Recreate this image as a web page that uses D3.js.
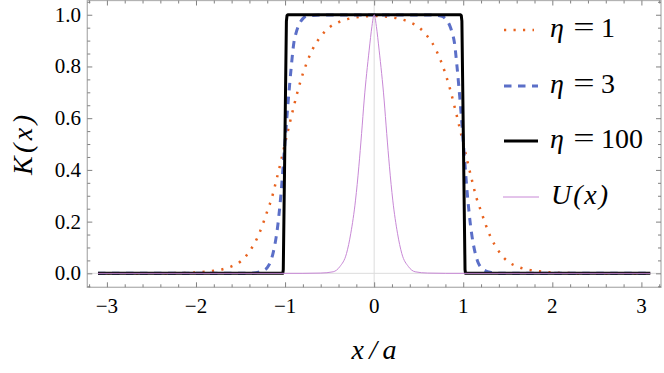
<!DOCTYPE html>
<html>
<head>
<meta charset="utf-8">
<script src="https://cdn.jsdelivr.net/npm/d3@7"></script>
</head>
<body style="margin:0">
<svg id="chart" width="664" height="373"></svg>
<script>
// --- Data ---
const xMajorTicks = [-3, -2, -1, 0, 1, 2, 3];
const yMajorTicks = [0, 0.2, 0.4, 0.6, 0.8, 1.0];

// eta = 1 (dotted orange)
const eta1 = [
  [-3.1, 0], [-2.5, 0], [-2.2, 0.001], [-2.0, 0.003], [-1.9, 0.006], [-1.8, 0.01],
  [-1.7, 0.016], [-1.6, 0.027], [-1.5, 0.046], [-1.45, 0.062], [-1.4, 0.085],
  [-1.35, 0.112], [-1.3, 0.146], [-1.25, 0.19], [-1.2, 0.24], [-1.15, 0.29],
  [-1.1, 0.357], [-1.05, 0.428], [-1.0, 0.503], [-0.95, 0.577], [-0.9, 0.648],
  [-0.85, 0.715], [-0.8, 0.772], [-0.75, 0.82], [-0.7, 0.86], [-0.65, 0.892],
  [-0.6, 0.916], [-0.5, 0.952], [-0.4, 0.971], [-0.3, 0.983], [-0.2, 0.99],
  [-0.1, 0.994], [0, 0.995],
  [0.1, 0.994], [0.2, 0.99], [0.3, 0.983], [0.4, 0.971], [0.5, 0.952], [0.6, 0.916],
  [0.65, 0.892], [0.7, 0.86], [0.75, 0.82], [0.8, 0.772], [0.85, 0.715], [0.9, 0.648],
  [0.95, 0.577], [1.0, 0.503], [1.05, 0.428], [1.1, 0.357], [1.15, 0.29], [1.2, 0.24],
  [1.25, 0.19], [1.3, 0.146], [1.35, 0.112], [1.4, 0.085], [1.45, 0.062], [1.5, 0.046],
  [1.6, 0.027], [1.7, 0.016], [1.8, 0.01], [1.9, 0.006], [2.0, 0.003], [2.2, 0.001],
  [2.5, 0], [3.1, 0]
];

// eta = 3 (dashed blue)
const eta3 = [
  [-3.1, 0], [-1.4, 0], [-1.3, 0.004], [-1.25, 0.01], [-1.2, 0.022], [-1.16, 0.048],
  [-1.13, 0.085], [-1.1, 0.14], [-1.08, 0.19], [-1.06, 0.255], [-1.04, 0.33],
  [-1.02, 0.42], [-1.0, 0.51], [-0.97, 0.645], [-0.95, 0.725], [-0.93, 0.8],
  [-0.9, 0.895], [-0.88, 0.925], [-0.85, 0.957], [-0.8, 0.985], [-0.75, 0.995],
  [-0.6, 0.999], [0, 0.999],
  [0.6, 0.999], [0.75, 0.995], [0.8, 0.985], [0.85, 0.957], [0.88, 0.925], [0.9, 0.895],
  [0.93, 0.8], [0.95, 0.725], [0.97, 0.645], [1.0, 0.51], [1.02, 0.42], [1.04, 0.33],
  [1.06, 0.255], [1.08, 0.19], [1.1, 0.14], [1.13, 0.085], [1.16, 0.048], [1.2, 0.022],
  [1.25, 0.01], [1.3, 0.004], [1.4, 0], [3.1, 0]
];

// eta = 100 (solid black, nearly a box)
const eta100 = [
  [-3.1, 0], [-1.025, 0], [-1.02, 0.015], [-0.985, 0.975], [-0.978, 0.997],
  [-0.97, 1.0], [0.97, 1.0], [0.978, 0.997], [0.985, 0.975], [1.02, 0.015],
  [1.025, 0], [3.1, 0]
];

// U(x) (thin violet peak)
const potential = [
  [-3.1, 0], [-0.8, 0], [-0.6, 0.001], [-0.46, 0.006], [-0.385, 0.026], [-0.31, 0.077],
  [-0.262, 0.155], [-0.209, 0.283], [-0.172, 0.412], [-0.141, 0.541], [-0.112, 0.67],
  [-0.056, 0.863], [-0.025, 0.955], [-0.008, 0.993], [0, 1.0],
  [0.008, 0.993], [0.025, 0.955], [0.056, 0.863], [0.112, 0.67], [0.141, 0.541],
  [0.172, 0.412], [0.209, 0.283], [0.262, 0.155], [0.31, 0.077], [0.385, 0.026],
  [0.46, 0.006], [0.6, 0.001], [0.8, 0], [3.1, 0]
];

const legendNames = ["1", "3", "100"];

// --- Layout ---
const svg = d3.select("#chart");
const plotLeft = 87.3, plotRight = 661, plotTop = 0.5, plotBottom = 287.3;

const x = d3.scaleLinear().domain([-3.22, 3.22]).range([plotLeft, plotRight]);
const y = d3.scaleLinear().domain([-0.054, 1.057]).range([plotBottom, 0]);

const xMinor = d3.range(-16, 17).map(i => i * 0.2).filter(v => Math.abs(v - Math.round(v)) > 1e-6);
const yMinor = d3.range(-1, 22).map(i => i * 0.05).filter(v => Math.abs(v * 5 - Math.round(v * 5)) > 1e-6);

// serif text helper (same form that rendered serif in a quick font check)
function serifText(parent, size, italic) {
  const t = parent.append("text")
    .attr("font-size", size)
    .style("font-family", '"Liberation Serif"');
  if (italic) t.style("font-style", "italic");
  return t;
}

// --- Zero axes (light) ---
svg.append("line")
  .attr("x1", x(0)).attr("x2", x(0)).attr("y1", plotTop).attr("y2", plotBottom)
  .attr("stroke", "#dcdcdc").attr("stroke-width", 1);
svg.append("line")
  .attr("x1", plotLeft).attr("x2", plotRight).attr("y1", y(0)).attr("y2", y(0))
  .attr("stroke", "#dcdcdc").attr("stroke-width", 1);

// --- Curves ---
const smooth = d3.line().x(d => x(d[0])).y(d => y(d[1])).curve(d3.curveMonotoneX);
const straight = d3.line().x(d => x(d[0])).y(d => y(d[1]));

const orange = "#e8621e", blue = "#5b6fc8", violet = "#c888d6";

svg.append("path").attr("d", smooth(eta1))
  .attr("fill", "none").attr("stroke", orange).attr("stroke-width", 2.5)
  .attr("stroke-dasharray", "2.2,7.3");
svg.append("path").attr("d", smooth(eta3))
  .attr("fill", "none").attr("stroke", blue).attr("stroke-width", 3)
  .attr("stroke-dasharray", "7.5,6.5");
svg.append("path").attr("d", straight(eta100))
  .attr("fill", "none").attr("stroke", "#000").attr("stroke-width", 3)
  .attr("stroke-linejoin", "round");
svg.append("path").attr("d", smooth(potential))
  .attr("fill", "none").attr("stroke", violet).attr("stroke-width", 1);

// --- Frame and ticks ---
svg.append("rect")
  .attr("x", plotLeft).attr("y", plotTop)
  .attr("width", plotRight - plotLeft).attr("height", plotBottom - plotTop)
  .attr("fill", "none").attr("stroke", "#b3b3b3").attr("stroke-width", 1.3);

function styleAxis(g) {
  g.select(".domain").remove();
  g.selectAll("text").remove();
  g.selectAll("line").attr("stroke", "#808080");
}

const tickSets = [
  { axis: d3.axisBottom, scale: x, pos: `translate(0,${plotBottom})` },
  { axis: d3.axisTop, scale: x, pos: `translate(0,${plotTop})` },
  { axis: d3.axisLeft, scale: y, pos: `translate(${plotLeft},0)` },
  { axis: d3.axisRight, scale: y, pos: `translate(${plotRight},0)` }
];
tickSets.forEach(t => {
  const major = t.scale === x ? xMajorTicks : yMajorTicks;
  const minor = t.scale === x ? xMinor : yMinor;
  svg.append("g").attr("transform", t.pos)
    .call(t.axis(t.scale).tickValues(major).tickSize(-5)).call(styleAxis);
  svg.append("g").attr("transform", t.pos)
    .call(t.axis(t.scale).tickValues(minor).tickSize(-3)).call(styleAxis);
});

// tick labels
const fmtX = d3.format("d"), fmtY = d3.format(".1f");
xMajorTicks.forEach(v => {
  serifText(svg, 21, false).attr("x", x(v)).attr("y", plotBottom + 26)
    .attr("text-anchor", "middle").text(fmtX(v));
});
yMajorTicks.forEach(v => {
  serifText(svg, 21, false).attr("x", plotLeft - 6.3).attr("y", y(v) + 7)
    .attr("text-anchor", "end").text(fmtY(v));
});

// --- Axis titles ---
serifText(svg, 28, true)
  .attr("transform", "translate(32,145) rotate(-90)")
  .attr("text-anchor", "middle")
  .attr("textLength", 60).attr("lengthAdjust", "spacing")
  .text("K(x)");
serifText(svg, 28, true)
  .attr("x", 374).attr("y", 358.5)
  .attr("text-anchor", "middle")
  .attr("textLength", 45).attr("lengthAdjust", "spacing")
  .text("x/a");

// --- Legend ---
const legendRows = [
  { yc: 30, stroke: orange, width: 2.5, dash: "2.2,7.3", x1: 504, x2: 534 },
  { yc: 86, stroke: blue, width: 3, dash: "7.5,6.5", x1: 504, x2: 538 },
  { yc: 141, stroke: "#000", width: 3, dash: null, x1: 504, x2: 538 },
  { yc: 197, stroke: violet, width: 1, dash: null, x1: 503, x2: 539 }
];
const legend = svg.append("g");
legendRows.forEach((r, i) => {
  legend.append("line")
    .attr("x1", r.x1).attr("x2", r.x2).attr("y1", r.yc).attr("y2", r.yc)
    .attr("stroke", r.stroke).attr("stroke-width", r.width)
    .attr("stroke-dasharray", r.dash);
  const base = r.yc + 6.5;
  if (i < 3) {
    serifText(legend, 28, true).attr("x", 550).attr("y", base).text("η");
    serifText(legend, 28, false).attr("x", 584).attr("y", base)
      .attr("text-anchor", "middle")
      .attr("transform", `translate(584,0) scale(1.35,1) translate(-584,0)`)
      .text("=");
    serifText(legend, 28, false).attr("x", 601).attr("y", base).text(legendNames[i]);
  } else {
    serifText(legend, 28, true).attr("x", 551).attr("y", base)
      .attr("textLength", 57).attr("lengthAdjust", "spacing")
      .text("U(x)");
  }
});
</script>
</body>
</html>
